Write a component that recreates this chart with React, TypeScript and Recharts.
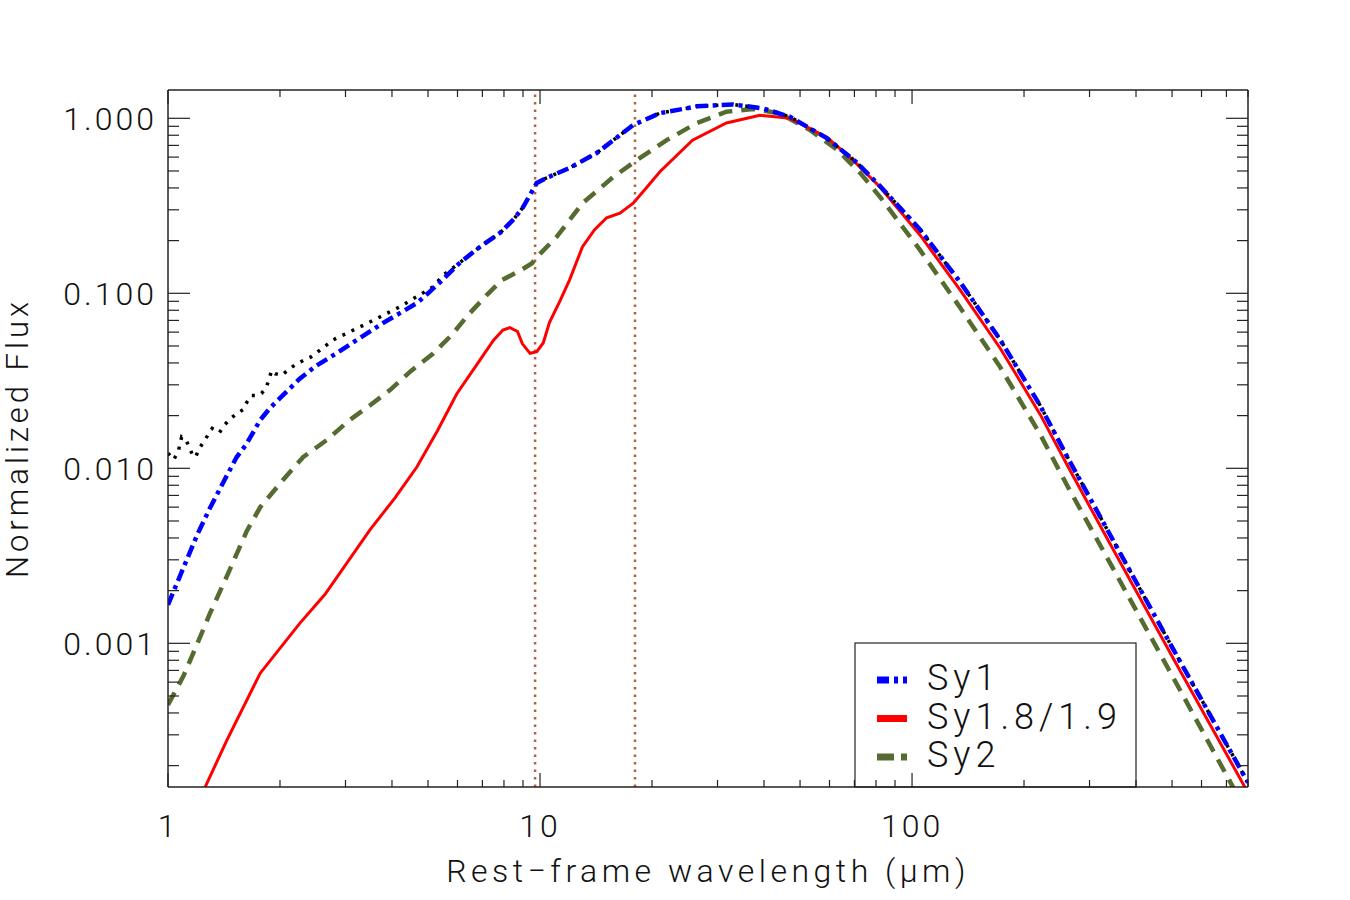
import React from 'react';
import { ComposedChart, Line, XAxis, YAxis, ReferenceLine } from 'recharts';

// ---------- data ----------
const sy1Wave = [1.0, 1.1, 1.2, 1.3, 1.42, 1.53, 1.62, 1.77, 1.88, 2.08, 2.26, 2.5, 2.85, 3.3, 3.79, 4.2, 4.67, 5.0, 5.39, 6.1, 6.89, 7.8, 8.5, 9.0, 9.5, 9.8, 10.4, 12.0, 14.2, 16.0, 17.8, 21.0, 26.4, 33.0, 39.7, 47, 59, 71, 82, 105, 134.6, 172.4, 220.8, 262.7, 334, 503, 800];
const sy1Flux = [0.00166, 0.0027, 0.0042, 0.006, 0.0086, 0.0116, 0.0136, 0.0189, 0.0221, 0.0273, 0.0325, 0.0385, 0.0457, 0.056, 0.0678, 0.077, 0.088, 0.1, 0.116, 0.15, 0.184, 0.221, 0.265, 0.31, 0.38, 0.427, 0.456, 0.52, 0.633, 0.77, 0.916, 1.07, 1.17, 1.2, 1.14, 1.02, 0.77, 0.56, 0.41, 0.232, 0.116, 0.0545, 0.0229, 0.0114, 0.0045, 0.00093, 0.00016];

const sy1TotWave = [1.0, 1.036, 1.066, 1.088, 1.12, 1.145, 1.17, 1.19, 1.22, 1.255, 1.315, 1.375, 1.42, 1.47, 1.53, 1.594, 1.63, 1.68, 1.73, 1.785, 1.84, 1.9, 1.94, 2.02, 2.1, 2.19, 2.31, 2.41, 2.51, 2.78, 3.43, 4.2, 5.16, 5.49, 5.97, 6.89, 7.8, 8.5, 9.0, 9.5, 9.8, 10.4, 12.0, 14.2, 16.0, 17.8, 21.0, 26.4, 33.0, 39.7, 47, 59, 71, 82, 105, 134.6, 172.4, 220.8, 262.7, 334, 503, 800];
const sy1TotFlux = [0.0122, 0.0112, 0.0125, 0.0151, 0.0144, 0.013, 0.0116, 0.0118, 0.0132, 0.0145, 0.0169, 0.016, 0.0177, 0.0192, 0.0205, 0.0217, 0.0239, 0.0261, 0.0261, 0.0268, 0.0292, 0.0362, 0.0347, 0.034, 0.0364, 0.0388, 0.0413, 0.043, 0.0458, 0.0542, 0.0673, 0.0837, 0.109, 0.127, 0.145, 0.184, 0.221, 0.265, 0.31, 0.38, 0.427, 0.456, 0.52, 0.633, 0.77, 0.916, 1.07, 1.17, 1.2, 1.14, 1.02, 0.77, 0.56, 0.41, 0.232, 0.116, 0.0545, 0.0229, 0.0114, 0.0045, 0.00093, 0.00016];

const sy18Wave = [1.2, 1.257, 1.44, 1.77, 2.26, 2.64, 3.49, 4.08, 4.67, 5.3, 5.97, 6.9, 7.5, 7.95, 8.3, 8.7, 8.96, 9.4, 9.8, 10.2, 10.6, 11.3, 12.0, 13.0, 14.0, 15.1, 16.4, 17.8, 19.5, 21.0, 25.7, 31.7, 39, 47, 59, 69.4, 82, 105, 134.6, 172.4, 220.8, 262.7, 334, 503, 800];
const sy18Flux = [0.000115, 0.00015, 0.00028, 0.000675, 0.0013, 0.0019, 0.00445, 0.0068, 0.0102, 0.0164, 0.0266, 0.0417, 0.054, 0.0617, 0.0637, 0.0605, 0.0516, 0.0454, 0.0464, 0.052, 0.068, 0.09, 0.119, 0.184, 0.23, 0.27, 0.287, 0.327, 0.41, 0.495, 0.75, 0.94, 1.04, 1.0, 0.78, 0.577, 0.405, 0.2155, 0.1045, 0.0487, 0.0204, 0.0102, 0.004, 0.000825, 0.00014];

const sy2Wave = [1.0, 1.1, 1.2, 1.3, 1.45, 1.63, 1.77, 2.04, 2.31, 2.67, 3.08, 3.5, 3.95, 4.5, 5.16, 5.8, 6.4, 7.2, 7.9, 8.8, 9.5, 10.0, 11.1, 13.0, 15.7, 18.2, 21.9, 26.4, 31.7, 37.3, 44, 53, 63, 72.6, 82, 105, 134.6, 172.4, 220.8, 262.7, 334, 503, 800];
const sy2Flux = [0.000445, 0.00065, 0.001, 0.0015, 0.0025, 0.0044, 0.006, 0.0086, 0.0116, 0.0145, 0.0189, 0.023, 0.028, 0.036, 0.0453, 0.058, 0.075, 0.098, 0.119, 0.134, 0.148, 0.168, 0.211, 0.327, 0.46, 0.577, 0.75, 0.94, 1.09, 1.13, 1.07, 0.86, 0.66, 0.486, 0.356, 0.177, 0.083, 0.038, 0.0157, 0.0078, 0.0031, 0.00064, 0.000105];

const featureLines = [9.7, 18];

const xTicks = [1, 2, 3, 4, 5, 6, 7, 8, 9, 10, 20, 30, 40, 50, 60, 70, 80, 90, 100, 200, 300, 400, 500, 600, 700, 800];
const yTicks = [0.0002, 0.0003, 0.0004, 0.0005, 0.0006, 0.0007, 0.0008, 0.0009, 0.001, 0.002, 0.003, 0.004, 0.005, 0.006, 0.007, 0.008, 0.009, 0.01, 0.02, 0.03, 0.04, 0.05, 0.06, 0.07, 0.08, 0.09, 0.1, 0.2, 0.3, 0.4, 0.5, 0.6, 0.7, 0.8, 0.9, 1];

const xDomain = [1, 800];
const yDomain = [0.000151, 1.451];

const legendNames = ['Sy1', 'Sy1.8/1.9', 'Sy2'];
const legendColors = ['#0000ff', '#ff0000', '#556b2f'];
const legendDashes = ['12 5 4 5', '', '17 7'];

const xTitle = 'Rest\u2212frame wavelength (\u03bcm)';
const yTitle = 'Normalized Flux';

// ---------- helpers ----------
const toPts = (xs: number[], ys: number[]) => xs.map((x, i) => ({ x, y: ys[i] }));
const sy1Data = toPts(sy1Wave, sy1Flux);
const sy1TotData = toPts(sy1TotWave, sy1TotFlux);
const sy18Data = toPts(sy18Wave, sy18Flux);
const sy2Data = toPts(sy2Wave, sy2Flux);

const FONT = 'Roboto, "Liberation Sans", Arial, sans-serif';
const AX = '#222';
const isMajor = (v: number) => Math.abs(Math.log10(v) - Math.round(Math.log10(v))) < 1e-6;

const BottomTick = (props: any) => {
  const { x, y, payload } = props;
  const v = payload.value;
  const major = isMajor(v);
  return (
    <g>
      <line x1={x} x2={x} y1={y} y2={y - (major ? 14 : 7)} stroke={AX} strokeWidth={1.2} />
      {major && (
        <text x={x} y={y + 50} textAnchor="middle" fontFamily={FONT} fontWeight={300} fontSize={32} fill="#111" letterSpacing={3}>
          {String(v)}
        </text>
      )}
    </g>
  );
};

const TopTick = (props: any) => {
  const { x, y, payload } = props;
  const major = isMajor(payload.value);
  return <line x1={x} x2={x} y1={y} y2={y + (major ? 14 : 7)} stroke={AX} strokeWidth={1.2} />;
};

const LeftTick = (props: any) => {
  const { x, y, payload } = props;
  const v = payload.value;
  const major = isMajor(v);
  return (
    <g>
      <line x1={x} x2={x + (major ? 22 : 11)} y1={y} y2={y} stroke={AX} strokeWidth={1.2} />
      {major && (
        <text x={x - 11} y={y + 12} textAnchor="end" fontFamily={FONT} fontWeight={300} fontSize={32} fill="#111" letterSpacing={3}>
          {v.toFixed(3)}
        </text>
      )}
    </g>
  );
};

const RightTick = (props: any) => {
  const { x, y, payload } = props;
  const major = isMajor(payload.value);
  return <line x1={x} x2={x - (major ? 22 : 11)} y1={y} y2={y} stroke={AX} strokeWidth={1.2} />;
};

export default function App() {
  return (
    <div style={{ position: 'absolute', left: 0, top: 0, width: 1350, height: 900, background: '#fff' }}>
      <ComposedChart width={1350} height={900} margin={{ top: 89, right: 101, bottom: 112, left: 167 }}>
        <XAxis
          xAxisId="b" dataKey="x" type="number" scale="log" domain={xDomain} allowDataOverflow
          ticks={xTicks} interval={0} tick={<BottomTick />} tickLine={false} tickSize={0} tickMargin={0}
          height={1} orientation="bottom" axisLine={{ stroke: AX, strokeWidth: 1.5 }}
        />
        <XAxis
          xAxisId="t" dataKey="x" type="number" scale="log" domain={xDomain} allowDataOverflow
          ticks={xTicks} interval={0} tick={<TopTick />} tickLine={false} tickSize={0} tickMargin={0}
          height={1} orientation="top" axisLine={{ stroke: AX, strokeWidth: 1.5 }}
        />
        <YAxis
          yAxisId="l" dataKey="y" type="number" scale="log" domain={yDomain} allowDataOverflow
          ticks={yTicks} interval={0} tick={<LeftTick />} tickLine={false} tickSize={0} tickMargin={0}
          width={1} orientation="left" axisLine={{ stroke: AX, strokeWidth: 1.5 }}
        />
        <YAxis
          yAxisId="r" dataKey="y" type="number" scale="log" domain={yDomain} allowDataOverflow
          ticks={yTicks} interval={0} tick={<RightTick />} tickLine={false} tickSize={0} tickMargin={0}
          width={1} orientation="right" axisLine={{ stroke: AX, strokeWidth: 1.5 }}
        />
        {featureLines.map((w) => (
          <ReferenceLine key={w} x={w} xAxisId="b" yAxisId="l" stroke="#b0643c" strokeWidth={2.5} strokeDasharray="2.5 5" />
        ))}
        <Line data={sy1Data} xAxisId="t" yAxisId="r" dataKey="y" stroke="none" dot={false} activeDot={false} isAnimationActive={false} legendType="none" />
        <Line data={sy2Data} xAxisId="b" yAxisId="l" dataKey="y" type="linear" stroke="#556b2f" strokeWidth={4.5} strokeDasharray="14 9" dot={false} activeDot={false} isAnimationActive={false} />
        <Line data={sy18Data} xAxisId="b" yAxisId="l" dataKey="y" type="linear" stroke="#ff0000" strokeWidth={3} dot={false} activeDot={false} isAnimationActive={false} />
        <Line data={sy1TotData} xAxisId="b" yAxisId="l" dataKey="y" type="linear" stroke="#000000" strokeWidth={3.5} strokeDasharray="3 7" dot={false} activeDot={false} isAnimationActive={false} />
        <Line data={sy1Data} xAxisId="b" yAxisId="l" dataKey="y" type="linear" stroke="#0000ff" strokeWidth={4.5} strokeDasharray="12 5 4 5" dot={false} activeDot={false} isAnimationActive={false} />
      </ComposedChart>
      <svg width={1350} height={900} style={{ position: 'absolute', left: 0, top: 0, pointerEvents: 'none' }}>
        <text x={708} y={882} textAnchor="middle" fontFamily={FONT} fontWeight={300} fontSize={32} fill="#111" letterSpacing={4.5}>
          {xTitle}
        </text>
        <text transform="translate(28,438) rotate(-90)" textAnchor="middle" fontFamily={FONT} fontWeight={300} fontSize={31} fill="#111" letterSpacing={4}>
          {yTitle}
        </text>
        <rect x={855} y={643} width={281} height={144} fill="none" stroke={AX} strokeWidth={1.2} />
        {legendNames.map((n, i) => {
          const cy = 680 + i * 38.5;
          return (
            <g key={n}>
              <line x1={877} x2={907} y1={cy} y2={cy} stroke={legendColors[i]} strokeWidth={7} strokeDasharray={legendDashes[i] || undefined} />
              <text x={927} y={cy + 10} fontFamily={FONT} fontWeight={300} fontSize={36} fill="#111" letterSpacing={5}>
                {n}
              </text>
            </g>
          );
        })}
      </svg>
    </div>
  );
}
